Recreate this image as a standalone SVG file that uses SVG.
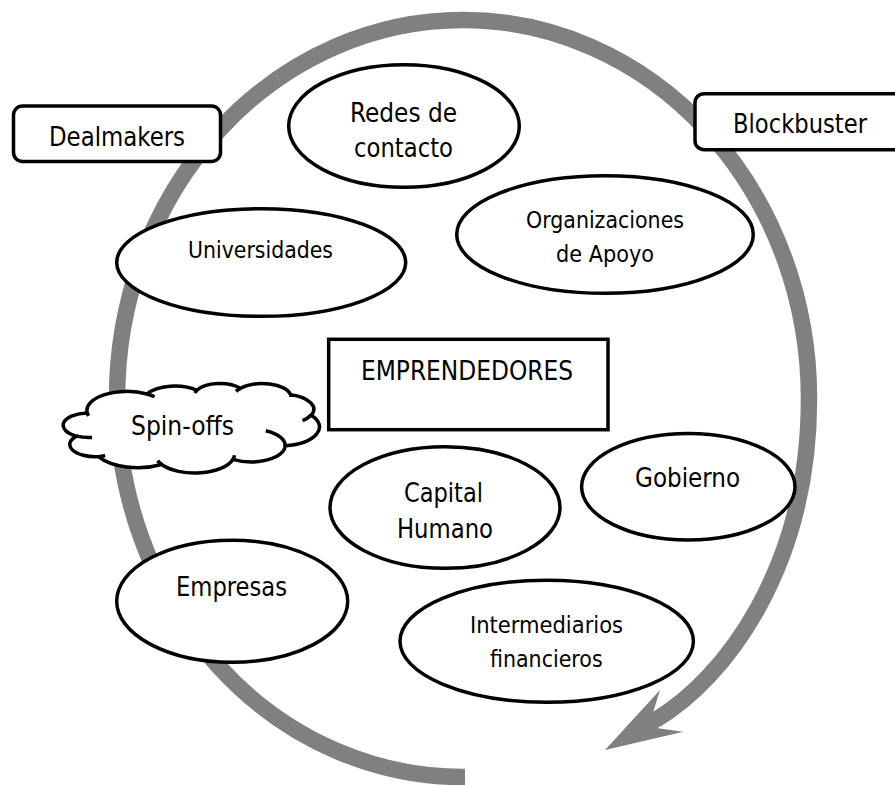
<svg xmlns="http://www.w3.org/2000/svg" width="895" height="785" viewBox="0 0 895 785">
<style>
.n{fill:#fff;stroke:#000;stroke-width:3.5}
.c{fill:none;stroke:#000;stroke-width:3.5}
.t{font-family:'DejaVu Sans Condensed','DejaVu Sans',sans-serif;font-stretch:condensed;font-size:26px;text-anchor:middle;fill:#000}
.s{font-size:23.7px}
.band{fill:none;stroke:#808080;stroke-width:16.5}
</style>
<rect width="895" height="785" fill="#fff"/>
<g id="connectors">
<path class="band" d="M465,777 A346,378.5 0 0 1 117,398.5 A346,378.5 0 0 1 463,20 A346,378.5 0 0 1 809,398.5 C809,568.5 724.3,679.2 655.5,720"/>
<polygon fill="#808080" points="660,690 605,750 683.3,731.7 658.3,728.3 663,716 653.3,711.7"/>
</g>
<g id="dealmakers">
<rect class="n" x="13.5" y="106" width="207" height="55.5" rx="9"/>
<text class="t" x="117" y="146" textLength="136" lengthAdjust="spacingAndGlyphs">Dealmakers</text>
</g>
<g id="blockbuster">
<rect class="n" x="695" y="93.7" width="215" height="56" rx="9"/>
<text class="t" x="800" y="133.3" textLength="134" lengthAdjust="spacingAndGlyphs">Blockbuster</text>
</g>
<g id="redes">
<ellipse class="n" cx="404" cy="126" rx="115.3" ry="61.3"/>
<text class="t" x="403.5" y="121.7" textLength="107" lengthAdjust="spacingAndGlyphs">Redes de</text>
<text class="t" x="403.5" y="156.7" textLength="99" lengthAdjust="spacingAndGlyphs">contacto</text>
</g>
<g id="universidades">
<ellipse class="n" cx="261.2" cy="262.5" rx="144.5" ry="53.8"/>
<text class="t s" x="260.5" y="258" textLength="145" lengthAdjust="spacingAndGlyphs">Universidades</text>
</g>
<g id="organizaciones">
<ellipse class="n" cx="605" cy="234.5" rx="148.3" ry="58.8"/>
<text class="t s" x="605" y="228.3" textLength="158" lengthAdjust="spacingAndGlyphs">Organizaciones</text>
<text class="t s" x="605" y="261.7" textLength="98" lengthAdjust="spacingAndGlyphs">de Apoyo</text>
</g>
<g id="emprendedores">
<rect class="n" x="328.7" y="339.3" width="279.3" height="90.4"/>
<text class="t" x="467" y="380" textLength="212" lengthAdjust="spacingAndGlyphs">EMPRENDEDORES</text>
</g>
<g id="spinoffs">
<g transform="translate(64.22,383.21) scale(0.0059065,0.002071)">
<path class="n" vector-effect="non-scaling-stroke" d="M3900,14370 A6753,9190 0 0 1 14004.7,5201.9 A5333,7267 0 0 1 22455.7,3429.3 A4365,5945 0 0 1 29832.2,2476.6 A4857,6595 0 0 1 38317.6,5571.4 A5333,7273 0 0 1 41818.1,15455.2 A6775,9220 0 0 1 37404.8,30200.1 A5785,7867 0 0 1 28556.1,36810 A6752,9215 0 0 1 16480.6,39261.5 A7720,10543 0 0 1 5804.3,35466.1 A4360,5918 0 0 1 2112,25545.6 A4345,5945 0 0 1 3900,14370 Z"/>
<path class="c" vector-effect="non-scaling-stroke" d="M4693,26177 A4345,5945 0 0 1 2112,25545.6 M6928,34899 A4360,5918 0 0 1 5804.3,35466.1 M16478,39090 A6752,9215 0 0 1 15810.1,37349 M28827,34751 A6752,9215 0 0 1 28556.1,36810 M34129,22954 A5785,7867 0 0 1 37404.8,30200.1 M41798,15354 A5333,7273 0 0 1 40349,18031.1 M38324,5426 A4857,6595 0 0 1 38400.4,6689.6 M29078,3952 A4857,6595 0 0 1 29832.2,2476.6 M22141,4720 A4365,5945 0 0 1 22455.7,3429.3 M14000,5192 A6753,9190 0 0 1 15300.1,6540.4 M4127,15789 A6753,9190 0 0 1 3900,14370"/>
</g>
<text class="t" x="182.5" y="435" textLength="103" lengthAdjust="spacingAndGlyphs">Spin-offs</text>
</g>
<g id="capital">
<ellipse class="n" cx="445" cy="507.5" rx="115" ry="60.8"/>
<text class="t" x="443.5" y="501.7" textLength="79" lengthAdjust="spacingAndGlyphs">Capital</text>
<text class="t" x="445" y="538.3" textLength="96" lengthAdjust="spacingAndGlyphs">Humano</text>
</g>
<g id="gobierno">
<ellipse class="n" cx="688.3" cy="486.7" rx="106.7" ry="53.3"/>
<text class="t" x="687.5" y="486.7" textLength="105" lengthAdjust="spacingAndGlyphs">Gobierno</text>
</g>
<g id="empresas">
<ellipse class="n" cx="232.2" cy="601.2" rx="115.5" ry="61"/>
<text class="t" x="231.5" y="596" textLength="111" lengthAdjust="spacingAndGlyphs">Empresas</text>
</g>
<g id="intermediarios">
<ellipse class="n" cx="546.7" cy="641.2" rx="146.7" ry="61"/>
<text class="t s" x="546.5" y="633.3" textLength="153" lengthAdjust="spacingAndGlyphs">Intermediarios</text>
<text class="t s" x="546.3" y="666.7" textLength="112.7" lengthAdjust="spacingAndGlyphs">financieros</text>
</g>
</svg>
